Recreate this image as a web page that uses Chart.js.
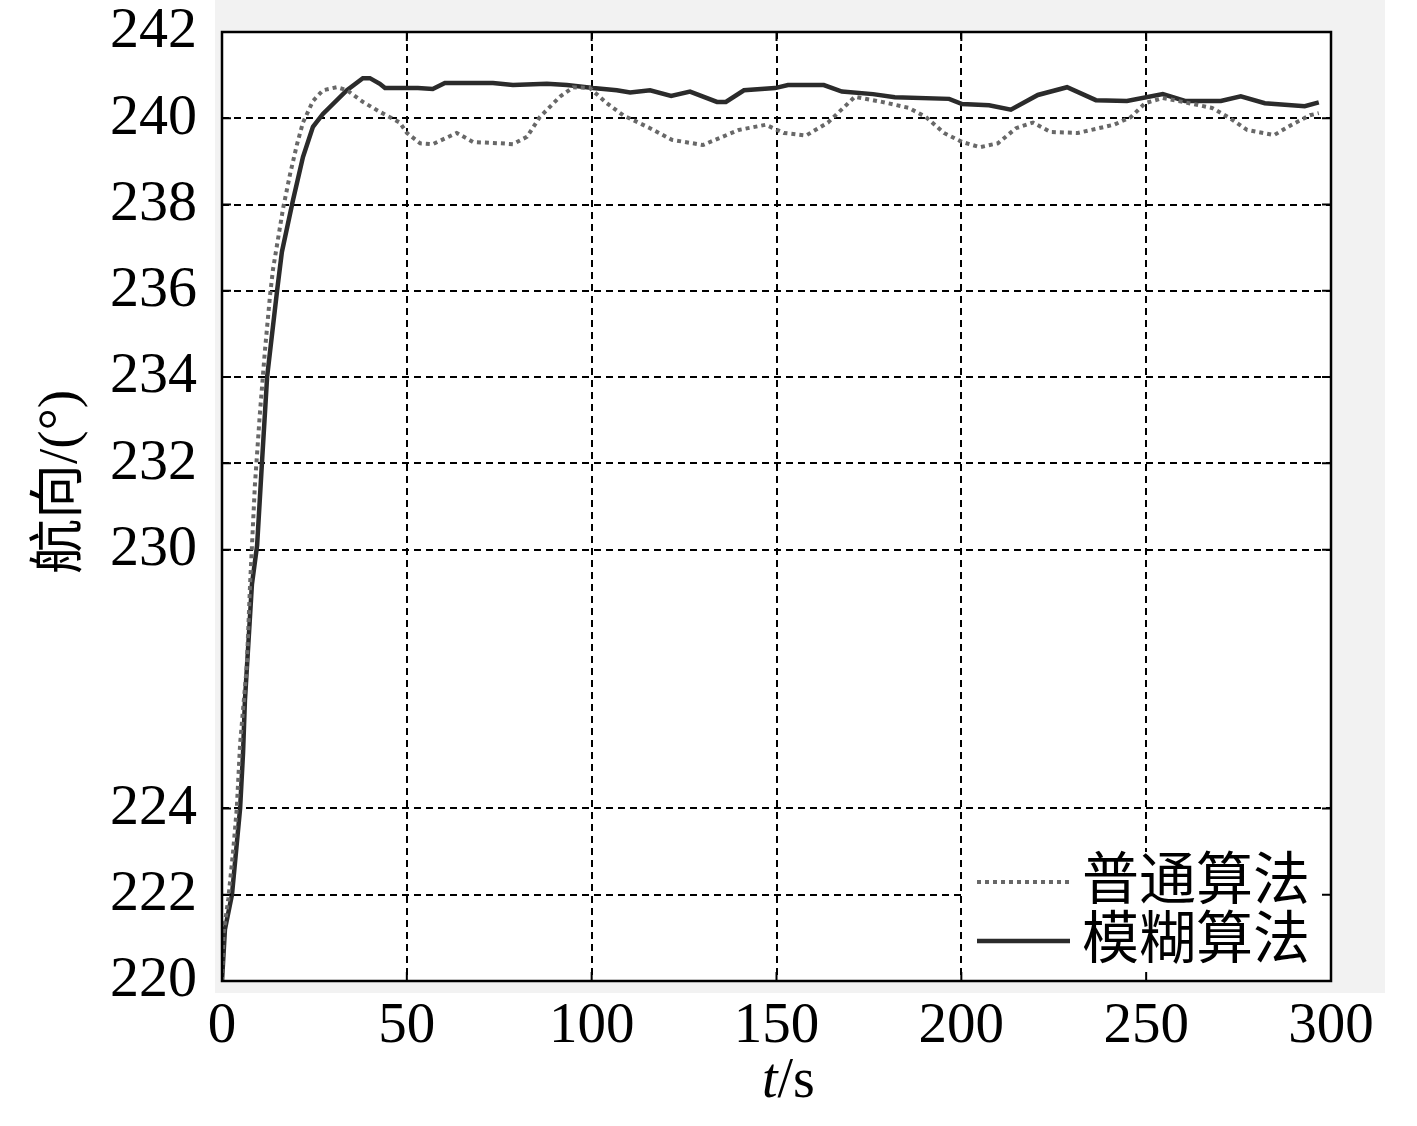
<!DOCTYPE html>
<html>
<head>
<meta charset="utf-8">
<script src="https://cdn.jsdelivr.net/npm/chart.js@4/dist/chart.umd.min.js"></script>
<style>
  body { margin: 0; background: #fff; }
  canvas { display: block; }
</style>
</head>
<body>
<canvas id="heading" width="1417" height="1126"></canvas>
<script>
// tick values (226, 228 are left out in the original figure)
const yTicks = [220, 222, 224, 230, 232, 234, 236, 238, 240, 242];

// 普通算法 (dotted)
const normalT = [0, 0.4, 1.7, 3, 4, 4.9, 5.7, 6.7, 7.6, 8.9, 10.2, 11.6, 13, 13.8, 16.5, 18.4, 20.3, 21.9, 24.6, 27.3, 31.1, 33.8, 38.1, 42.7, 48.1, 50, 53.6, 57, 63.5, 67.9, 75.2, 78.7, 82.5, 86, 91.4, 95, 99.5, 104.1, 108.5, 115.8, 121.7, 130.1, 139.8, 147.1, 152, 158, 163.9, 168.8, 171.2, 178.5, 185.8, 190.4, 195.3, 200.2, 205, 209.9, 214.8, 219.4, 224.2, 231.5, 241.3, 245.9, 249.7, 254.5, 261.6, 267.8, 272.7, 277.3, 284.6, 289.4, 294.3, 296.7];
const normalV = [220, 221.1, 221.9, 223, 224, 225.5, 226.3, 227.3, 229.2, 231.5, 233.1, 234.6, 235.9, 236.5, 237.9, 238.7, 239.4, 239.9, 240.4, 240.65, 240.72, 240.65, 240.38, 240.15, 239.9, 239.66, 239.42, 239.4, 239.66, 239.45, 239.42, 239.4, 239.57, 240.03, 240.5, 240.72, 240.7, 240.35, 240.07, 239.77, 239.5, 239.38, 239.73, 239.85, 239.66, 239.6, 239.9, 240.3, 240.5, 240.38, 240.24, 240.03, 239.66, 239.45, 239.33, 239.42, 239.77, 239.9, 239.68, 239.66, 239.85, 240.03, 240.35, 240.47, 240.35, 240.24, 240, 239.73, 239.61, 239.85, 240.07, 240.12];

// 模糊算法 (solid)
const fuzzyT = [0, 0.8, 2.7, 4.9, 5.7, 6.2, 8.1, 9.5, 10.8, 12.2, 14.9, 16.2, 19.2, 21.9, 24.6, 27.3, 33.8, 38.1, 40, 42.7, 44.1, 53, 57, 60.3, 73.3, 78.7, 87.9, 93.3, 100.4, 106.8, 110.4, 115.8, 121.5, 126.6, 133.9, 136.3, 141.2, 149.6, 153.1, 162.8, 167.7, 176.1, 182, 196.7, 200.2, 207.5, 213.4, 220.7, 228.6, 236.4, 244.8, 254.5, 260.5, 270.2, 275.6, 282.1, 292.9, 296.7];
const fuzzyV = [220, 221.2, 222, 224, 225.3, 226.5, 229.2, 230.1, 232, 234, 236, 236.9, 238.1, 239.1, 239.8, 240.1, 240.65, 240.93, 240.93, 240.8, 240.7, 240.7, 240.68, 240.82, 240.82, 240.77, 240.8, 240.77, 240.7, 240.65, 240.6, 240.65, 240.52, 240.62, 240.38, 240.38, 240.65, 240.7, 240.77, 240.77, 240.62, 240.56, 240.49, 240.45, 240.33, 240.3, 240.2, 240.54, 240.72, 240.42, 240.4, 240.56, 240.4, 240.4, 240.51, 240.35, 240.28, 240.37];

const serif = '"Liberation Serif", "Noto Sans CJK SC", serif';
const pts = (ts, vs) => ts.map((t, i) => ({ x: t, y: vs[i] }));

const frame = {
  id: "frame",
  beforeDraw(chart) {
    const { ctx, chartArea: a } = chart;
    ctx.save();
    ctx.fillStyle = "#fff";
    ctx.fillRect(0, 0, chart.width, chart.height);
    ctx.fillStyle = "#f2f2f2";
    ctx.fillRect(215, 0, 1170, 993);
    ctx.fillStyle = "#fff";
    ctx.fillRect(a.left, a.top, a.right - a.left, a.bottom - a.top);
    ctx.restore();
  },
  afterDatasetsDraw(chart) {
    const { ctx, chartArea: a, scales } = chart;
    ctx.save();
    // legend box
    ctx.fillStyle = "#fff";
    ctx.fillRect(966, 852, a.right - 966, a.bottom - 852);
    chart.data.datasets.forEach((ds, i) => {
      const y = 882 + i * 59;
      ctx.strokeStyle = ds.borderColor;
      ctx.lineWidth = ds.borderWidth;
      ctx.setLineDash(ds.borderDash || []);
      ctx.beginPath();
      ctx.moveTo(977, y);
      ctx.lineTo(1070, y);
      ctx.stroke();
      ctx.setLineDash([]);
      ctx.fillStyle = "#000";
      ctx.font = "57px " + serif;
      ctx.textBaseline = "middle";
      ctx.fillText(ds.label, 1082, y + 2);
    });
    // inner ticks
    ctx.strokeStyle = "#000";
    ctx.lineWidth = 2;
    ctx.beginPath();
    scales.x.ticks.forEach(t => {
      const x = scales.x.getPixelForValue(t.value);
      ctx.moveTo(x, a.bottom); ctx.lineTo(x, a.bottom - 9);
      ctx.moveTo(x, a.top); ctx.lineTo(x, a.top + 9);
    });
    scales.y.ticks.forEach(t => {
      const y = scales.y.getPixelForValue(t.value);
      ctx.moveTo(a.left, y); ctx.lineTo(a.left + 9, y);
      ctx.moveTo(a.right, y); ctx.lineTo(a.right - 9, y);
    });
    ctx.stroke();
    // frame
    ctx.lineWidth = 2.5;
    ctx.strokeRect(a.left, a.top, a.right - a.left, a.bottom - a.top);
    // axis titles
    ctx.fillStyle = "#000";
    ctx.textBaseline = "alphabetic";
    ctx.font = "italic 56px " + serif;
    ctx.fillText("t", 762, 1097);
    const tw = ctx.measureText("t").width;
    ctx.font = "56px " + serif;
    ctx.fillText("/s", 762 + tw, 1097);
    ctx.translate(62, 482);
    ctx.rotate(-Math.PI / 2);
    ctx.textAlign = "center";
    ctx.textBaseline = "middle";
    ctx.font = "55px " + serif;
    ctx.fillText("航向/(°)", 0, 0);
    ctx.restore();
  }
};

new Chart(document.getElementById("heading").getContext("2d"), {
  type: "line",
  data: {
    datasets: [
      {
        label: "普通算法",
        data: pts(normalT, normalV),
        borderColor: "#686868",
        borderWidth: 4,
        borderDash: [4, 4],
        pointRadius: 0,
        tension: 0,
      },
      {
        label: "模糊算法",
        data: pts(fuzzyT, fuzzyV),
        borderColor: "#2b2b2b",
        borderWidth: 4.5,
        pointRadius: 0,
        tension: 0,
      },
    ],
  },
  options: {
    responsive: false,
    devicePixelRatio: 1,
    animation: false,
    layout: { padding: { left: 0, right: 86, top: 32, bottom: 0 } },
    plugins: {
      legend: { display: false },
      tooltip: { enabled: false },
    },
    scales: {
      x: {
        type: "linear",
        min: 0,
        max: 300,
        afterFit: s => { s.height = 145; s.paddingLeft = 0; s.paddingRight = 0; },
        ticks: {
          stepSize: 50,
          padding: 12,
          color: "#000",
          font: { family: serif, size: 57 },
        },
        grid: { color: "#000", lineWidth: 2, drawTicks: false },
        border: { display: false, dash: [7, 5] },
      },
      y: {
        min: 220,
        max: 242,
        afterFit: s => { s.width = 222; s.paddingTop = 0; s.paddingBottom = 0; },
        afterBuildTicks: s => { s.ticks = yTicks.map(v => ({ value: v })); },
        ticks: {
          padding: 25,
          color: "#000",
          font: { family: serif, size: 58 },
        },
        grid: { color: "#000", lineWidth: 2, drawTicks: false },
        border: { display: false, dash: [7, 5] },
      },
    },
  },
  plugins: [frame],
});
</script>
</body>
</html>
